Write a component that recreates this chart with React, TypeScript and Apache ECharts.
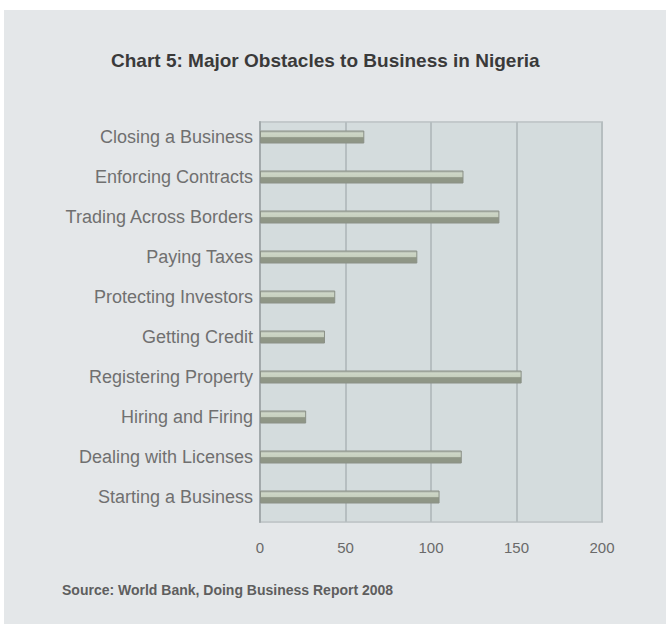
import React, { useEffect, useRef } from "react";
import * as echarts from "echarts";

const categories = [
  "Closing a Business",
  "Enforcing Contracts",
  "Trading Across Borders",
  "Paying Taxes",
  "Protecting Investors",
  "Getting Credit",
  "Registering Property",
  "Hiring and Firing",
  "Dealing with Licenses",
  "Starting a Business",
];
const values = [61, 119, 140, 92, 44, 38, 153, 27, 118, 105];
const xTicks = [0, 50, 100, 150, 200];
const titleText = "Chart 5: Major Obstacles to Business in Nigeria";
const sourceText = "Source: World Bank, Doing Business Report 2008";

export default function App() {
  const ref = useRef<HTMLDivElement>(null);
  useEffect(() => {
    if (!ref.current) return;
    const chart = echarts.init(ref.current, null, { renderer: "svg" });
    const font = "'Liberation Sans', Arial, sans-serif";
    chart.setOption({
      animation: false,
      backgroundColor: "#ffffff",
      graphic: [
        {
          type: "rect",
          z: -10,
          silent: true,
          shape: { x: 4, y: 10, width: 662, height: 614 },
          style: { fill: "#e4e7e9" },
        },
        {
          type: "text",
          x: 62,
          y: 590,
          style: {
            text: sourceText,
            font: `bold 14px ${font}`,
            fill: "#5e5e5e",
            verticalAlign: "middle",
          },
        },
      ],
      title: {
        text: titleText,
        left: 106,
        top: 46,
        textStyle: { fontFamily: font, fontSize: 19, fontWeight: "bold", color: "#3a3a3a" },
      },
      grid: {
        left: 260,
        right: 64,
        top: 122,
        bottom: 102,
        show: true,
        backgroundColor: "#d4dcdd",
        borderColor: "#c3c9cb",
        borderWidth: 2,
      },
      xAxis: {
        type: "value",
        min: xTicks[0],
        max: xTicks[xTicks.length - 1],
        interval: 50,
        axisLine: { show: false },
        axisTick: { show: false },
        axisLabel: { fontFamily: font, fontSize: 15, color: "#6a6a6a", margin: 18 },
        splitLine: { lineStyle: { color: "#b6bec0", width: 2 } },
      },
      yAxis: {
        type: "category",
        inverse: true,
        data: categories,
        axisLine: { show: true, lineStyle: { color: "#a3aaac", width: 2 } },
        axisTick: { show: false },
        axisLabel: {
          fontFamily: font,
          fontSize: 18,
          color: "#707070",
          margin: 7,
          verticalAlign: "bottom",
          lineHeight: 10,
        },
        splitLine: { show: false },
      },
      series: [
        {
          type: "bar",
          data: values,
          barWidth: 13,
          barGap: "0%",
          itemStyle: {
            borderColor: "#8a9086",
            borderWidth: 1,
            color: new echarts.graphic.LinearGradient(0, 0, 0, 1, [
              { offset: 0, color: "#aab0a8" },
              { offset: 0.2, color: "#cdd6c6" },
              { offset: 0.5, color: "#c6cfbe" },
              { offset: 0.55, color: "#8f9686" },
              { offset: 1, color: "#8f9686" },
            ]),
          },
        },
        {
          type: "bar",
          data: values,
          barWidth: 10,
          barGap: "0%",
          silent: true,
          itemStyle: { color: "rgba(0,0,0,0)" },
        },
      ],
    });
    return () => chart.dispose();
  }, []);
  return (
    <div
      ref={ref}
      style={{ position: "fixed", left: 0, top: 0, width: 666, height: 624 }}
    />
  );
}
